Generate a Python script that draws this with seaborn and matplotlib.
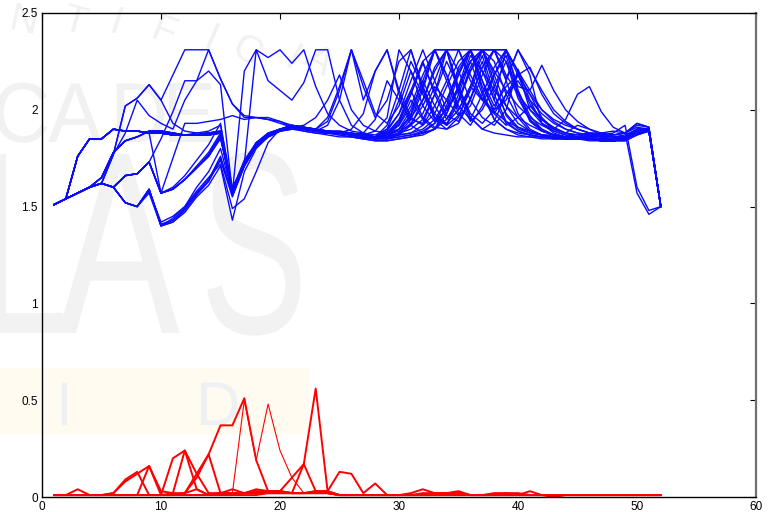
import matplotlib
matplotlib.use("Agg")
import matplotlib.pyplot as plt
import matplotlib.transforms as mtransforms
from matplotlib.textpath import TextPath
from matplotlib.patches import PathPatch, Rectangle
from matplotlib.font_manager import FontProperties
import pandas as pd
import seaborn as sns

# ---------------- data ----------------
steps = list(range(1, 53))

blue_01 = [1.51,1.54,1.76,1.85,1.85,1.90,1.89,1.89,1.88,1.88,1.87,1.87,1.87,1.87,1.88,
           1.57,1.72,1.83,1.87,1.90,1.91,1.90,1.89,1.89,1.88,1.87,1.86,1.85,1.85,1.87,
           1.92,2.05,2.20,2.31,2.10,1.96,1.90,1.88,1.87,1.86,1.86,1.85,1.85,1.85,
           1.85,1.85,1.84,1.84,1.85,1.88,1.89,1.50]
blue_02 = [1.51,1.54,1.57,1.60,1.65,1.78,1.84,1.86,1.89,1.89,1.88,1.87,1.87,1.88,1.89,
           1.58,1.73,1.82,1.87,1.90,1.92,1.91,1.90,1.89,1.88,1.87,1.86,1.86,1.88,1.95,
           2.10,2.25,2.08,1.95,2.05,2.22,2.31,2.12,1.98,1.91,1.88,1.87,1.86,1.86,
           1.85,1.85,1.85,1.84,1.85,1.89,1.90,1.50]
blue_03 = [1.51,1.54,1.57,1.60,1.62,1.77,2.02,2.06,2.13,2.05,1.93,1.89,1.88,1.88,1.89,
           1.56,1.71,1.81,1.86,1.89,1.90,1.89,1.88,1.88,1.87,1.86,1.85,1.84,1.84,1.85,
           1.86,1.88,1.93,2.05,2.20,2.31,2.31,2.20,2.10,2.02,1.96,1.92,1.89,1.87,
           1.86,1.85,1.84,1.84,1.84,1.87,1.89,1.50]
blue_04 = [1.51,1.54,1.57,1.60,1.62,1.60,1.66,1.67,1.73,1.57,1.59,1.64,1.70,1.76,1.85,
           1.59,1.74,1.83,1.88,1.90,1.91,1.90,1.90,1.89,1.88,1.87,1.86,1.85,1.86,1.90,
           2.00,2.15,2.02,1.92,1.97,2.10,2.25,2.05,1.93,1.89,1.87,1.86,1.86,1.85,
           1.85,1.85,1.85,1.84,1.85,1.88,1.89,1.50]
blue_05 = [1.51,1.54,1.57,1.60,1.62,1.60,1.52,1.50,1.59,1.40,1.42,1.47,1.55,1.61,1.71,
           1.43,1.68,1.80,1.86,1.89,1.91,1.90,1.89,1.89,1.88,1.88,1.87,1.86,1.86,1.88,
           1.93,2.02,2.15,2.31,2.31,2.18,2.06,1.99,1.94,1.91,1.89,1.87,1.86,1.85,
           1.85,1.85,1.85,1.84,1.85,1.88,1.90,1.50]
blue_06 = [1.51,1.54,1.57,1.60,1.62,1.60,1.52,1.50,1.58,1.42,1.45,1.50,1.58,1.65,1.72,
           1.49,1.54,1.68,1.83,1.90,1.92,1.91,1.90,1.89,1.89,1.88,1.87,1.86,1.87,1.92,
           2.05,1.95,1.90,1.98,2.12,2.25,2.08,1.95,1.90,1.88,1.87,1.86,1.85,1.85,
           1.85,1.84,1.84,1.84,1.84,1.87,1.89,1.50]
blue_07 = [1.51,1.54,1.57,1.60,1.62,1.77,2.02,2.06,2.13,2.05,2.18,2.31,2.31,2.31,2.16,
           2.03,1.96,1.96,1.95,1.94,1.91,1.90,1.89,1.88,1.88,1.87,1.86,1.86,1.90,2.05,
           2.25,2.12,1.98,1.92,2.08,2.25,2.31,2.18,2.02,1.93,1.89,1.87,1.86,1.86,
           1.85,1.85,1.85,1.84,1.85,1.89,1.90,1.50]
blue_08 = [1.51,1.54,1.57,1.60,1.62,1.60,1.66,1.67,1.73,1.85,1.99,2.15,2.15,2.31,2.16,
           2.03,1.97,1.96,1.96,1.94,1.92,1.91,1.90,1.89,1.88,1.87,1.86,1.86,1.88,1.93,
           2.08,2.25,2.31,2.15,1.98,1.92,2.02,2.18,2.31,2.10,1.95,1.89,1.87,1.86,
           1.85,1.85,1.85,1.84,1.85,1.88,1.90,1.50]
blue_09 = [1.51,1.54,1.57,1.60,1.62,1.77,1.88,2.05,1.97,1.93,1.90,2.05,2.15,2.20,2.13,
           1.57,2.20,2.31,2.27,2.31,2.24,2.31,2.12,1.98,1.92,1.89,1.88,1.87,1.90,1.98,
           2.10,1.96,1.91,1.90,1.96,2.12,2.28,2.08,1.94,1.89,1.87,1.86,1.86,1.85,
           1.85,1.86,1.86,1.87,1.88,1.93,1.91,1.50]
blue_10 = [1.51,1.54,1.76,1.85,1.85,1.90,1.89,1.89,1.88,1.88,1.87,1.87,1.88,1.89,1.92,
           1.60,1.72,2.31,2.15,2.10,2.05,2.14,2.31,2.31,2.05,1.92,1.88,1.86,1.85,1.88,
           1.98,2.15,2.31,2.31,2.12,1.96,1.90,1.94,2.08,1.96,1.89,1.87,1.86,1.85,
           1.85,1.85,1.85,1.84,1.85,1.89,1.90,1.50]
blue_11 = [1.51,1.54,1.76,1.85,1.85,1.90,1.89,1.89,1.88,1.57,1.75,1.93,1.93,1.94,1.95,
           1.97,1.95,1.96,1.95,1.93,1.91,1.89,1.88,1.87,1.86,1.86,1.85,1.84,1.84,1.85,
           1.86,1.87,1.90,1.98,2.12,2.31,2.31,2.31,2.18,2.08,2.00,1.95,1.91,1.88,
           1.86,1.85,1.84,1.84,1.85,1.88,1.89,1.50]
blue_12 = [1.51,1.54,1.57,1.60,1.62,1.60,1.66,1.67,1.73,1.57,1.60,1.66,1.74,1.82,1.93,
           1.56,1.71,1.82,1.87,1.90,1.91,1.91,1.90,1.94,2.10,2.31,2.12,1.96,2.05,2.25,
           2.31,2.10,1.95,1.90,1.93,2.05,2.22,2.31,2.15,1.98,1.90,1.87,1.86,1.85,
           1.85,1.85,1.84,1.84,1.85,1.88,1.89,1.50]
blue_13 = [1.51,1.54,1.57,1.60,1.62,1.60,1.52,1.50,1.59,1.40,1.44,1.50,1.60,1.68,1.80,
           1.57,1.72,1.82,1.87,1.90,1.91,1.90,1.89,1.89,1.88,1.87,1.88,1.95,2.15,2.05,
           1.95,1.93,2.08,2.31,2.31,2.15,2.05,2.18,2.28,2.08,1.94,1.89,1.87,1.86,
           1.85,1.85,1.85,1.85,1.86,1.90,1.90,1.50]
blue_14 = [1.51,1.54,1.76,1.85,1.85,1.90,1.89,1.89,1.88,1.88,1.87,1.87,1.87,1.88,1.88,
           1.57,1.72,1.82,1.87,1.90,1.91,1.90,1.89,1.89,1.88,1.87,1.86,1.86,1.87,1.89,
           1.92,1.98,2.12,2.05,1.97,2.02,2.18,2.31,2.31,2.18,2.08,2.00,1.94,1.90,
           1.88,1.87,1.86,1.85,1.85,1.89,1.90,1.50]
blue_15 = [1.51,1.54,1.57,1.60,1.65,1.78,1.84,1.86,1.89,1.89,1.88,1.87,1.87,1.88,1.88,
           1.57,1.72,1.82,1.87,1.90,1.91,1.90,1.89,1.89,1.88,1.87,1.86,1.86,1.88,1.92,
           2.02,2.18,2.31,2.31,2.20,2.05,1.96,1.92,2.00,2.21,2.05,1.93,1.88,1.86,
           1.85,1.85,1.85,1.84,1.85,1.88,1.89,1.50]
blue_16 = [1.51,1.54,1.57,1.60,1.62,1.60,1.66,1.67,1.73,1.57,1.59,1.64,1.70,1.77,1.87,
           1.58,1.73,1.82,1.87,1.90,1.91,1.90,1.89,1.88,1.88,1.87,1.86,1.85,1.85,1.86,
           1.87,1.88,1.90,1.95,2.05,2.20,2.31,2.31,2.31,2.12,2.10,2.23,2.10,2.00,
           1.94,1.90,1.88,1.86,1.86,1.90,1.90,1.50]
blue_17 = [1.51,1.54,1.57,1.60,1.62,1.60,1.52,1.50,1.57,1.40,1.42,1.48,1.56,1.63,1.74,
           1.55,1.71,1.81,1.86,1.89,1.91,1.90,1.89,1.88,1.87,1.86,1.85,1.85,1.86,1.88,
           1.90,1.95,2.08,2.25,2.12,1.98,1.93,2.00,2.15,2.31,2.18,1.93,1.90,1.95,
           2.08,2.12,1.99,1.91,1.88,1.91,1.90,1.50]
blue_18 = [1.51,1.54,1.76,1.85,1.85,1.90,1.89,1.89,1.88,1.88,1.87,1.87,1.87,1.88,1.89,
           1.56,1.72,1.83,1.88,1.90,1.92,1.91,1.90,1.96,2.12,2.31,2.05,2.20,2.31,2.08,
           1.92,1.88,1.90,2.02,2.22,2.31,2.10,1.95,1.90,1.87,1.86,1.86,1.85,1.85,
           1.85,1.85,1.84,1.84,1.85,1.88,1.89,1.50]
blue_19 = [1.51,1.54,1.57,1.60,1.65,1.78,1.84,1.86,1.89,1.89,1.88,1.87,1.87,1.88,1.89,
           1.58,1.73,1.83,1.87,1.90,1.91,1.90,1.90,1.89,1.89,1.88,1.87,1.86,1.89,1.98,
           2.15,2.31,2.15,2.00,2.10,2.28,2.20,2.05,2.31,2.20,2.00,1.93,1.89,1.87,
           1.86,1.86,1.85,1.85,1.86,1.89,1.90,1.50]
blue_20 = [1.51,1.54,1.76,1.85,1.85,1.90,1.89,1.89,1.88,1.88,1.87,1.87,1.87,1.87,1.88,
           1.57,1.72,1.82,1.87,1.89,1.90,1.90,1.89,1.88,1.88,1.87,1.86,1.86,1.92,2.10,
           2.31,2.12,1.96,1.92,2.04,2.20,2.31,2.25,2.08,2.18,2.08,1.96,1.90,1.88,
           1.87,1.88,1.88,1.87,1.88,1.93,1.91,1.50]
blue_21 = [1.51,1.54,1.57,1.60,1.62,1.60,1.66,1.67,1.73,1.57,1.59,1.64,1.71,1.78,1.88,
           1.57,1.72,1.82,1.87,1.90,1.91,1.90,1.89,1.88,1.88,1.87,1.86,1.85,1.86,1.88,
           1.95,2.10,2.31,2.18,2.00,2.12,2.31,2.15,1.97,1.90,1.88,1.87,1.87,1.86,
           1.86,1.87,1.88,1.89,1.88,1.57,1.46,1.50]
blue_22 = [1.51,1.54,1.76,1.85,1.85,1.90,1.89,1.89,1.88,1.88,1.87,1.87,1.87,1.87,1.88,
           1.57,1.72,1.82,1.87,1.90,1.91,1.90,1.89,1.89,1.88,1.87,1.86,1.86,1.86,1.87,
           1.88,1.92,2.02,2.15,2.31,2.31,2.20,2.10,2.02,1.96,1.92,1.89,1.87,1.86,
           1.86,1.86,1.87,1.88,1.92,1.60,1.48,1.50]
blue_23 = [1.51,1.54,1.57,1.60,1.62,1.60,1.66,1.67,1.73,1.57,1.59,1.64,1.70,1.76,1.86,
           1.57,1.72,1.82,1.87,1.90,1.91,1.90,1.89,1.89,1.88,1.87,1.86,1.86,1.87,1.90,
           1.96,2.05,2.22,2.31,2.08,1.94,2.00,2.12,2.25,2.10,1.97,1.90,1.87,1.86,
           1.85,1.85,1.85,1.84,1.85,1.89,1.90,1.50]
blue_24 = [1.51,1.54,1.57,1.60,1.62,1.60,1.52,1.50,1.59,1.41,1.43,1.49,1.57,1.64,1.76,
           1.56,1.71,1.82,1.87,1.90,1.91,1.90,1.89,1.88,1.88,1.87,1.86,1.86,1.88,1.94,
           2.08,2.24,2.10,1.97,1.94,2.06,2.22,2.31,2.25,2.06,1.95,1.90,1.87,1.86,
           1.85,1.85,1.84,1.84,1.85,1.88,1.89,1.50]
blue_25 = [1.51,1.54,1.76,1.85,1.85,1.90,1.89,1.89,1.88,1.88,1.87,1.87,1.87,1.87,1.88,
           1.57,1.72,1.82,1.87,1.90,1.91,1.90,1.89,1.89,1.88,1.87,1.86,1.85,1.85,1.86,
           1.87,1.89,1.93,2.00,2.12,2.25,2.31,2.31,2.16,2.31,2.21,2.10,2.00,1.94,
           1.90,1.88,1.87,1.86,1.86,1.90,1.90,1.50]
blue_26 = [1.51,1.54,1.57,1.60,1.65,1.78,1.84,1.86,1.89,1.89,1.88,1.87,1.87,1.88,1.88,
           1.57,1.72,1.82,1.87,1.90,1.91,1.90,1.89,1.88,1.88,1.87,1.86,1.86,1.86,1.87,
           1.88,1.90,1.95,2.05,2.18,2.31,2.15,2.02,2.12,2.18,2.03,1.95,1.90,1.88,
           1.92,1.90,1.87,1.86,1.86,1.89,1.90,1.50]
blue_27 = [1.51,1.54,1.76,1.85,1.85,1.90,1.89,1.89,1.88,1.88,1.87,1.87,1.87,1.87,1.88,
           1.57,1.72,1.82,1.87,1.90,1.91,1.90,1.89,1.92,2.05,2.31,2.15,1.98,1.93,2.02,
           2.20,2.08,1.96,1.93,2.00,2.12,2.05,1.98,2.08,2.15,2.05,1.98,1.93,1.90,
           1.88,1.87,1.86,1.86,1.87,1.90,1.90,1.50]
blue_28 = [1.51,1.54,1.57,1.60,1.62,1.60,1.66,1.67,1.73,1.57,1.59,1.64,1.70,1.76,1.86,
           1.58,1.73,1.82,1.87,1.90,1.91,1.90,1.89,1.89,1.88,1.90,1.98,2.20,2.31,2.10,
           1.96,1.92,1.98,2.12,2.25,2.31,2.12,2.00,2.05,2.18,2.22,2.08,1.98,1.93,
           1.90,1.88,1.87,1.87,1.88,1.92,1.91,1.50]
blue_29 = [1.51,1.54,1.57,1.60,1.65,1.78,1.84,1.86,1.89,1.89,1.88,1.87,1.87,1.88,1.88,
           1.57,1.72,1.82,1.87,1.90,1.91,1.92,1.96,2.05,2.18,2.00,1.92,1.89,1.88,1.90,
           1.97,2.12,2.31,2.18,2.02,1.95,2.08,2.22,2.31,2.20,2.10,2.00,1.95,1.92,
           1.90,1.88,1.87,1.86,1.86,1.89,1.90,1.50]
blue_30 = [1.51,1.54,1.57,1.60,1.62,1.60,1.52,1.50,1.59,1.40,1.43,1.49,1.57,1.63,1.75,
           1.56,1.71,1.81,1.86,1.89,1.90,1.90,1.89,1.88,1.88,1.87,1.87,1.89,1.96,2.31,
           2.20,2.02,1.94,2.00,2.18,2.31,2.15,1.98,1.92,1.96,2.02,1.95,1.90,1.88,
           1.87,1.86,1.86,1.85,1.86,1.89,1.90,1.50]

blue_lines = [blue_01, blue_02, blue_03, blue_04, blue_05, blue_06, blue_07,
              blue_08, blue_09, blue_10, blue_11, blue_12, blue_13, blue_14,
              blue_15, blue_16, blue_17, blue_18, blue_19, blue_20, blue_21,
              blue_22, blue_23, blue_24, blue_25, blue_26, blue_27, blue_28,
              blue_29, blue_30]

red_01 = [0.01,0.01,0.04,0.01,0.01,0.02,0.08,0.12,0.16,0.03,0.02,0.02,0.04,
          0.01,0.02,0.04,0.02,0.04,0.03,0.03,0.02,0.02,0.03,0.02,0.01,0.01,
          0.01,0.01,0.01,0.01,0.02,0.04,0.02,0.02,0.03,0.01,0.01,0.01,0.02,
          0.01,0.03,0.01,0.00,0.01,0.01,0.01,0.01,0.01,0.01,0.01,0.01,0.01]
red_02 = [0.01,0.01,0.01,0.01,0.01,0.02,0.09,0.13,0.01,0.01,0.20,0.24,0.04,
          0.01,0.02,0.02,0.02,0.03,0.03,0.03,0.02,0.02,0.03,0.03,0.01,0.01,
          0.01,0.01,0.01,0.01,0.01,0.02,0.02,0.02,0.02,0.01,0.01,0.02,0.02,
          0.02,0.01,0.01,0.01,0.01,0.01,0.01,0.01,0.01,0.01,0.01,0.01,0.01]
red_03 = [0.01,0.01,0.01,0.01,0.01,0.01,0.01,0.01,0.16,0.01,0.02,0.24,0.12,
          0.02,0.02,0.02,0.02,0.03,0.02,0.02,0.02,0.02,0.02,0.02,0.01,0.01,
          0.01,0.01,0.01,0.01,0.01,0.01,0.01,0.02,0.02,0.01,0.01,0.01,0.01,
          0.01,0.01,0.01,0.01,0.01,0.01,0.01,0.01,0.01,0.01,0.01,0.01,0.01]
red_04 = [0.01,0.01,0.01,0.01,0.01,0.01,0.01,0.01,0.01,0.01,0.01,0.02,0.12,
          0.22,0.02,0.02,0.02,0.02,0.02,0.02,0.02,0.02,0.02,0.02,0.01,0.01,
          0.01,0.01,0.01,0.01,0.01,0.01,0.01,0.01,0.01,0.01,0.01,0.01,0.01,
          0.01,0.01,0.01,0.01,0.01,0.01,0.01,0.01,0.01,0.01,0.01,0.01,0.01]
red_05 = [0.01,0.01,0.01,0.01,0.01,0.01,0.01,0.01,0.01,0.01,0.01,0.02,0.10,
          0.22,0.37,0.37,0.51,0.19,0.03,0.03,0.02,0.02,0.02,0.02,0.01,0.01,
          0.01,0.01,0.01,0.01,0.01,0.01,0.01,0.01,0.01,0.01,0.01,0.01,0.01,
          0.01,0.01,0.01,0.01,0.01,0.01,0.01,0.01,0.01,0.01,0.01,0.01,0.01]
red_06 = [0.01,0.01,0.01,0.01,0.01,0.01,0.01,0.01,0.01,0.01,0.01,0.01,0.01,
          0.01,0.01,0.02,0.50,0.19,0.48,0.24,0.10,0.02,0.02,0.02,0.01,0.01,
          0.01,0.01,0.01,0.01,0.01,0.01,0.01,0.01,0.01,0.01,0.01,0.01,0.01,
          0.01,0.01,0.01,0.01,0.01,0.01,0.01,0.01,0.01,0.01,0.01,0.01,0.01]
red_07 = [0.01,0.01,0.01,0.01,0.01,0.01,0.01,0.01,0.01,0.01,0.01,0.01,0.01,
          0.01,0.01,0.01,0.02,0.02,0.03,0.03,0.10,0.17,0.56,0.03,0.01,0.01,
          0.01,0.01,0.01,0.01,0.01,0.01,0.01,0.01,0.01,0.01,0.01,0.01,0.01,
          0.01,0.01,0.01,0.01,0.01,0.01,0.01,0.01,0.01,0.01,0.01,0.01,0.01]
red_08 = [0.01,0.01,0.01,0.01,0.01,0.01,0.01,0.01,0.01,0.01,0.01,0.01,0.01,
          0.01,0.01,0.01,0.01,0.01,0.02,0.02,0.02,0.17,0.03,0.03,0.13,0.12,
          0.02,0.07,0.01,0.01,0.01,0.01,0.01,0.01,0.01,0.01,0.01,0.01,0.01,
          0.01,0.01,0.01,0.01,0.01,0.01,0.01,0.01,0.01,0.01,0.01,0.01,0.01]

red_lines = [red_01, red_02, red_03, red_04, red_05, red_06, red_07, red_08]
red_widths = [1.4, 1.4, 1.4, 1.4, 1.4, 0.8, 1.4, 1.4]

x_ticks = [0, 10, 20, 30, 40, 50, 60]
y_ticks = [0, 0.5, 1, 1.5, 2, 2.5]
y_tick_labels = ["0", "0.5", "1", "1.5", "2", "2.5"]

# ---------------- long table ----------------
blue_df = pd.DataFrame(
    [(s, v, i) for i, line in enumerate(blue_lines) for s, v in zip(steps, line)],
    columns=["step", "value", "run"])

# ---------------- figure ----------------
sns.set_style("white")
plt.rcParams["font.family"] = ["Liberation Sans", "DejaVu Sans"]

W, H = 769, 512
fig = plt.figure(figsize=(W / 100, H / 100), dpi=100)
fig.patch.set_facecolor("white")

def px(x, y):
    return x / W, 1 - y / H

# faint background watermark
wm_gray = "#f1f1f1"
fig.patches.append(Rectangle(px(0, 435), 310 / W, 67 / H, transform=fig.transFigure,
                             facecolor="#fffbf0", edgecolor="none", zorder=0))
fp = FontProperties(family="Liberation Sans")

def big_letter(ch, x_left, y_base, height, squeeze, color):
    tp = TextPath((0, 0), ch, size=100, prop=fp)
    s = height / 72.9
    tr = mtransforms.Affine2D().scale(s * squeeze, s).translate(x_left, H - y_base)
    fig.patches.append(PathPatch(tr.transform_path(tp), transform=mtransforms.IdentityTransform(),
                                 facecolor=color, edgecolor="none", zorder=0))

big_letter("L", -22, 333, 190, 0.62, "#f2f2f2")
big_letter("A", 58, 333, 190, 0.70, "#f2f2f2")
big_letter("S", 200, 333, 190, 0.62, "#f2f2f2")
big_letter("C", -8, 142, 62, 0.95, wm_gray)
big_letter("A", 48, 142, 62, 0.95, wm_gray)
big_letter("D", 110, 142, 62, 0.95, wm_gray)
big_letter("E", 162, 142, 62, 0.95, wm_gray)
big_letter("I", 56, 425, 45, 1.0, "#eef0f3")
big_letter("D", 196, 425, 45, 1.0, "#eef0f3")
arc = [("N", 24, 22, -12), ("T", 74, 22, -15), ("I", 116, 24, -18), ("F", 163, 33, -21),
       ("I", 210, 40, -24), ("C", 247, 52, -27), ("I", 292, 60, -30), ("A", 318, 62, -33)]
for ch, ax_, ay_, rot in arc:
    fig.text(*px(ax_, ay_), ch, fontsize=28, color=wm_gray, rotation=rot,
             ha="center", va="center", zorder=0)

ax = fig.add_axes([42 / W, 15 / H, 714 / W, 484 / H], zorder=1)
ax.set_facecolor("none")

sns.lineplot(data=blue_df, x="step", y="value", units="run", estimator=None,
             color="#0a0aff", lw=1.0, ax=ax, legend=False, sort=False)

for line, lw in zip(red_lines, red_widths):
    rdf = pd.DataFrame({"step": steps, "value": line})
    sns.lineplot(data=rdf, x="step", y="value", estimator=None, color="#ff0000",
                 lw=lw, ax=ax, legend=False, sort=False)

ax.set_xlim(0, 60)
ax.set_ylim(0, 2.5)
ax.set_xticks(x_ticks)
ax.set_xticklabels([str(t) for t in x_ticks])
ax.set_yticks(y_ticks)
ax.set_yticklabels(y_tick_labels)
ax.set_xlabel("")
ax.set_ylabel("")
ax.tick_params(direction="in", length=4, width=0.8, top=True, right=True,
               labelsize=8.5, colors="black", pad=3)
for side in ["left", "bottom", "top"]:
    ax.spines[side].set_visible(True)
    ax.spines[side].set_color("black")
    ax.spines[side].set_linewidth(1.0)
ax.spines["right"].set_visible(True)
ax.spines["right"].set_color("#707070")
ax.spines["right"].set_linewidth(1.6)

fig.savefig("out.png", dpi=100)
